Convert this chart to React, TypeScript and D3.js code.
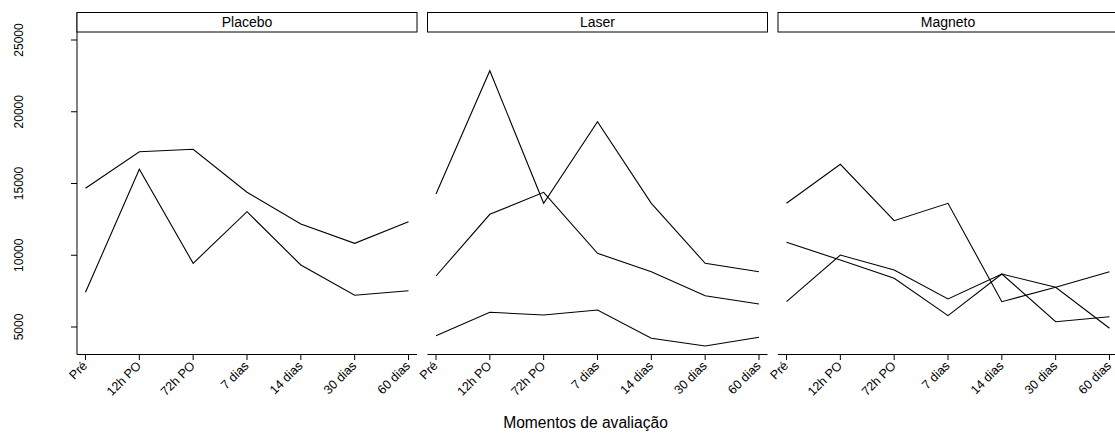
import React from "react";
import * as d3 from "d3";

const moments = ["Pré", "12h PO", "72h PO", "7 dias", "14 dias", "30 dias", "60 dias"];
const panels = ["Placebo", "Laser", "Magneto"];
const yTicks = [5000, 10000, 15000, 20000, 25000];

const placeboA = [14666, 17217, 17384, 14387, 12178, 10833, 12338];
const placeboB = [7418, 15990, 9439, 13035, 9321, 7209, 7530];

const laserA = [14269, 22862, 13621, 19307, 13621, 9439, 8854];
const laserB = [8554, 12854, 14387, 10136, 8854, 7181, 6603];
const laserC = [4394, 6024, 5836, 6185, 4212, 3676, 4282];

const magnetoA = [13621, 16339, 12408, 13621, 6763, 7767, 8854];
const magnetoB = [10903, 9669, 8394, 5788, 8694, 5369, 5718];
const magnetoC = [6763, 10018, 8972, 6951, 8694, 7767, 4909];

const panelSeries = [
  [placeboA, placeboB],
  [laserA, laserB, laserC],
  [magnetoA, magnetoB, magnetoC],
];

const W = 1115;
const H = 437;
const font = "'Liberation Sans', Arial, Helvetica, sans-serif";

export default function App() {
  const panelW = 340;
  const panelLeft = (i: number) => 77 + i * 350.5;
  const stripTop = 12.5;
  const stripBottom = 32;
  const axisY = 354.5;

  const y = d3.scaleLinear().domain([5000, 25000]).range([327, 40]);

  return (
    <svg
      width={W}
      height={H}
      style={{ position: "absolute", left: 0, top: 0, background: "#fff" }}
      fontFamily={font}
    >
      <rect x={0} y={0} width={W} height={H} fill="#fff" />
      <line x1={77} x2={77} y1={stripTop} y2={axisY} stroke="#000" strokeWidth={1} />
      {yTicks.map((t) => (
        <g key={t}>
          <line x1={71} x2={77} y1={y(t)} y2={y(t)} stroke="#000" strokeWidth={1} />
          <text
            transform={`translate(22.7,${y(t)}) rotate(-90)`}
            textAnchor="middle"
            fontSize={12}
            fill="#000"
          >
            {t}
          </text>
        </g>
      ))}
      {panels.map((name, i) => {
        const left = panelLeft(i);
        const x = d3
          .scalePoint<string>()
          .domain(moments)
          .range([left + 8.5, left + panelW - 8.5]);
        const line = d3
          .line<number>()
          .x((_, j) => x(moments[j]) as number)
          .y((v) => y(v));
        return (
          <g key={name}>
            <rect
              x={left}
              y={stripTop}
              width={panelW}
              height={stripBottom - stripTop}
              fill="#fff"
              stroke="#000"
              strokeWidth={1}
            />
            <text
              x={left + panelW / 2}
              y={27}
              textAnchor="middle"
              fontSize={14}
              fill="#000"
            >
              {name}
            </text>
            <line x1={left} x2={left + panelW} y1={axisY} y2={axisY} stroke="#000" strokeWidth={1} />
            {moments.map((m) => (
              <g key={m}>
                <line
                  x1={x(m)}
                  x2={x(m)}
                  y1={axisY}
                  y2={360}
                  stroke="#000"
                  strokeWidth={1}
                />
                <text
                  transform={`translate(${(x(m) as number) + 2.5},366.5) rotate(-45)`}
                  textAnchor="end"
                  fontSize={12.5}
                  fill="#000"
                >
                  {m}
                </text>
              </g>
            ))}
            {panelSeries[i].map((s, k) => (
              <path key={k} d={line(s) || ""} fill="none" stroke="#000" strokeWidth={1.1} />
            ))}
          </g>
        );
      })}
      <text x={585.5} y={428} textAnchor="middle" fontSize={15.6} fill="#000">
        Momentos de avaliação
      </text>
    </svg>
  );
}
